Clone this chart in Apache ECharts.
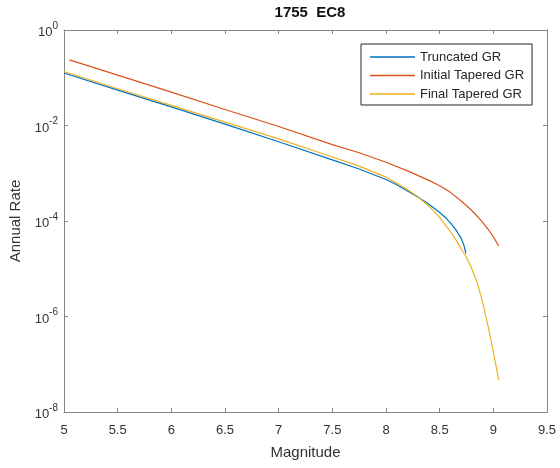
<!DOCTYPE html>
<html>
<head>
<meta charset="utf-8">
<script src="https://cdn.jsdelivr.net/npm/echarts@6/dist/echarts.min.js"></script>
<style>
html,body{margin:0;padding:0;background:#fff;}
#c{width:560px;height:468px;}
</style>
</head>
<body>
<div id="c"></div>
<script>
// Magnitudes and log10(annual rate)
const truncMag = [5.0, 5.5, 6.0, 6.5, 7.0, 7.5, 7.75, 8.0, 8.1, 8.2, 8.3, 8.4, 8.5, 8.55, 8.6, 8.65, 8.7, 8.725, 8.745];
const truncLog = [-0.90, -1.26, -1.61, -1.97, -2.34, -2.72, -2.91, -3.13, -3.24, -3.37, -3.50, -3.65, -3.82, -3.92, -4.04, -4.18, -4.36, -4.50, -4.68];

const initMag = [5.05, 5.5, 6.0, 6.5, 7.0, 7.5, 7.75, 8.0, 8.2, 8.4, 8.5, 8.6, 8.7, 8.8, 8.85, 8.9, 8.95, 9.0, 9.05];
const initLog = [-0.625, -0.945, -1.30, -1.665, -2.02, -2.40, -2.57, -2.77, -2.95, -3.15, -3.26, -3.40, -3.58, -3.78, -3.90, -4.03, -4.17, -4.33, -4.52];

const finalMag = [5.0, 5.5, 6.0, 6.5, 7.0, 7.5, 7.75, 8.0, 8.2, 8.3, 8.4, 8.5, 8.6, 8.65, 8.7, 8.75, 8.8, 8.85, 8.9, 8.95, 9.0, 9.05];
const finalLog = [-0.87, -1.23, -1.58, -1.93, -2.28, -2.66, -2.85, -3.08, -3.34, -3.50, -3.69, -3.93, -4.22, -4.39, -4.58, -4.76, -5.00, -5.29, -5.70, -6.19, -6.74, -7.33];

const seriesNames = ['Truncated GR', 'Initial Tapered GR', 'Final Tapered GR'];
const seriesColors = ['#0072BD', '#D95319', '#EDB120'];
const titleText = '1755  EC8';

function pairs(m, l) { return m.map((x, i) => [x, Math.pow(10, l[i])]); }
const seriesData = [pairs(truncMag, truncLog), pairs(initMag, initLog), pairs(finalMag, finalLog)];

const axisColor = '#858585';
const labelColor = '#333333';
const font = 'Liberation Sans, Arial, Helvetica, sans-serif';

const chart = echarts.init(document.getElementById('c'), null, {renderer: 'canvas'});
const xCommon = {
  type: 'value', min: 5, max: 9.5, interval: 0.5,
  axisLine: {show: true, onZero: false, lineStyle: {color: axisColor, width: 1}},
  axisTick: {show: true, inside: true, length: 4, lineStyle: {color: axisColor}},
  splitLine: {show: false}
};
const yCommon = {
  type: 'log', logBase: 10, min: 1e-8, max: 1, interval: 2,
  axisLine: {show: true, onZero: false, lineStyle: {color: axisColor, width: 1}},
  axisTick: {show: true, inside: true, length: 4, lineStyle: {color: axisColor}},
  splitLine: {show: false},
  minorTick: {show: false}
};
chart.setOption({
  animation: false,
  backgroundColor: '#fff',
  title: {
    text: titleText, left: 305, top: 0, textAlign: 'center',
    textStyle: {fontFamily: font, fontSize: 15, fontWeight: 'bold', color: '#111'}
  },
  grid: {left: 64, right: 13, top: 30, bottom: 56, containLabel: false},
  legend: {
    data: seriesNames.map((n, i) => ({name: n, icon: 'rect', itemStyle: {color: seriesColors[i]}})),
    orient: 'vertical', left: 361, top: 44,
    itemWidth: 45, itemHeight: 1.3, itemGap: 4.5, itemTextGap: 4,
    padding: [6, 8, 4, 9],
    borderColor: '#262626', borderWidth: 1, backgroundColor: '#fff',
    textStyle: {fontFamily: font, fontSize: 13, lineHeight: 14, color: '#262626'}
  },
  xAxis: [
    Object.assign({}, xCommon, {
      position: 'bottom',
      axisLabel: {show: true, margin: 12, color: labelColor, fontFamily: font, fontSize: 13},
      name: 'Magnitude', nameLocation: 'middle', nameGap: 33,
      nameTextStyle: {fontFamily: font, fontSize: 15, color: labelColor}
    }),
    Object.assign({}, xCommon, {position: 'top', axisLabel: {show: false}})
  ],
  yAxis: [
    Object.assign({}, yCommon, {
      position: 'left',
      axisLabel: {
        show: true, margin: 6, color: labelColor, fontFamily: font,
        formatter: function (v) { const e = Math.round(Math.log10(v)); return '{b|10}{s|' + e + '}'; },
        rich: {
          b: {fontSize: 13, fontFamily: font, color: labelColor, lineHeight: 18, verticalAlign: 'bottom'},
          s: {fontSize: 10, fontFamily: font, color: labelColor, lineHeight: 18, verticalAlign: 'top'}
        }
      },
      name: 'Annual Rate', nameLocation: 'middle', nameGap: 37,
      nameTextStyle: {fontFamily: font, fontSize: 15, color: labelColor}
    }),
    Object.assign({}, yCommon, {position: 'right', axisLabel: {show: false}})
  ],
  series: seriesNames.map((n, i) => ({
    name: n, type: 'line', data: seriesData[i], xAxisIndex: 0, yAxisIndex: 0,
    showSymbol: false, symbol: 'none', smooth: false,
    lineStyle: {color: seriesColors[i], width: 1.2},
    itemStyle: {color: seriesColors[i]}
  }))
});
</script>
</body>
</html>
